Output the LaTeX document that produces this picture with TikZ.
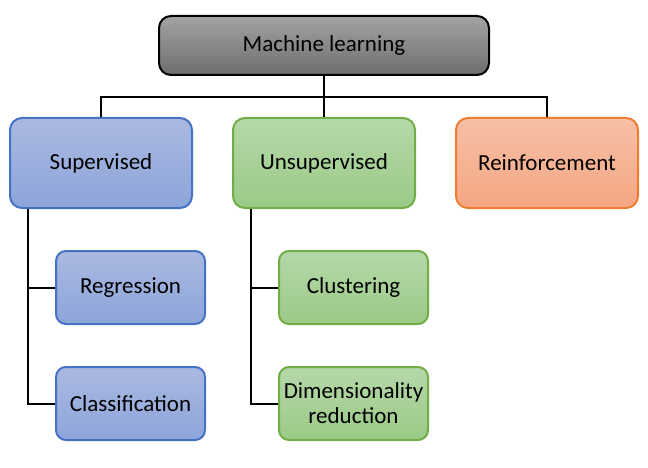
\documentclass[tikz,border=0pt]{standalone}
\usepackage{fontspec}
\setmainfont{Carlito}
\usepackage{xcolor}
\usetikzlibrary{positioning}
\tikzset{
  font={\fontsize{23pt}{25pt}\selectfont}}

\definecolor{bluetop}{HTML}{AAB9E1}
\definecolor{bluebot}{HTML}{8DA5DA}
\definecolor{blueline}{HTML}{4472C4}
\definecolor{greentop}{HTML}{B5D8A9}
\definecolor{greenbot}{HTML}{9BCA86}
\definecolor{greenline}{HTML}{70AD47}
\definecolor{orangetop}{HTML}{F7C0A7}
\definecolor{orangebot}{HTML}{F4A682}
\definecolor{orangeline}{HTML}{ED7D31}
\definecolor{graytop}{HTML}{A3A3A3}
\definecolor{graybot}{HTML}{6E6E6E}

\begin{document}
\begin{tikzpicture}[x=1pt, y=-1pt]

        \tikzset{box/.style = {rounded corners=12pt, line width=2pt, align=center,
                   inner sep=0pt, minimum width=182pt, minimum height=90pt},
                 leaf/.style = {box, rounded corners=10pt, minimum width=149pt, minimum height=73pt},
                 bluebox/.style = {draw=blueline, top color=bluetop, bottom color=bluebot},
                 greenbox/.style = {draw=greenline, top color=greentop, bottom color=greenbot},
                 edge/.style = {line width=2pt, black}}

        \useasboundingbox (0,0) rectangle (648,468);

        % vertices
        \node[box, draw=black, top color=graytop, bottom color=graybot,
              minimum width=330pt, minimum height=59pt] (ml) at (324,45.5) {Machine learning};
        \node[box, bluebox] (sup) at (101,163) {Supervised};
        \node[box, greenbox] (uns) at (324,163) {Unsupervised};
        \node[box, draw=orangeline, top color=orangetop, bottom color=orangebot] (rein) at (547,163) {Reinforcement};
        \node[leaf, bluebox] (reg) at (130.5,287.5) {Regression};
        \node[leaf, bluebox] (cla) at (130.5,403.5) {Classification};
        \node[leaf, greenbox] (clu) at (353.5,287.5) {Clustering};
        \node[leaf, greenbox] (dim) at (353.5,403.5) {Dimensionality\\reduction};
        \coordinate (bus) at (324,97);

        %edges
        \draw[edge] (ml) -- (uns);
        \draw[edge] (sup.north) |- (bus) -| (rein.north);
        \draw[edge] ([xshift=19pt]sup.south west) |- (reg.west);
        \draw[edge] ([xshift=19pt]sup.south west) |- (cla.west);
        \draw[edge] ([xshift=19pt]uns.south west) |- (clu.west);
        \draw[edge] ([xshift=19pt]uns.south west) |- (dim.west);

\end{tikzpicture}
\end{document}
